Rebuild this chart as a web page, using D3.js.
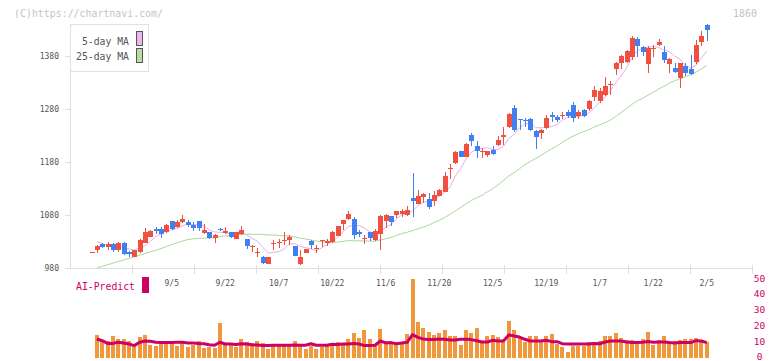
<!DOCTYPE html>
<html><head><meta charset="utf-8">
<script src="https://cdn.jsdelivr.net/npm/d3@7/dist/d3.min.js"></script>
<style>body{margin:0;background:#fff}svg{display:block}text{font-family:"DejaVu Sans Mono",monospace}</style>
</head><body>
<svg id="c" width="772" height="361"></svg>
<script>
const dates = [
"2025-08-15","2025-08-18","2025-08-19","2025-08-20","2025-08-21","2025-08-22","2025-08-25","2025-08-26","2025-08-27","2025-08-28","2025-08-29",
"2025-09-01","2025-09-02","2025-09-03","2025-09-04","2025-09-05","2025-09-08","2025-09-09","2025-09-10","2025-09-11","2025-09-12",
"2025-09-16","2025-09-17","2025-09-18","2025-09-19","2025-09-22","2025-09-24","2025-09-25","2025-09-26","2025-09-29","2025-09-30",
"2025-10-01","2025-10-02","2025-10-03","2025-10-06","2025-10-07","2025-10-08","2025-10-09","2025-10-10","2025-10-14","2025-10-15",
"2025-10-16","2025-10-17","2025-10-20","2025-10-21","2025-10-22","2025-10-23","2025-10-24","2025-10-27","2025-10-28","2025-10-29",
"2025-10-30","2025-10-31","2025-11-04","2025-11-05","2025-11-06","2025-11-07","2025-11-10","2025-11-11","2025-11-12","2025-11-13",
"2025-11-14","2025-11-17","2025-11-18","2025-11-19","2025-11-20","2025-11-21","2025-11-25","2025-11-26","2025-11-27","2025-11-28",
"2025-12-01","2025-12-02","2025-12-03","2025-12-04","2025-12-05","2025-12-08","2025-12-09","2025-12-10","2025-12-11","2025-12-12",
"2025-12-15","2025-12-16","2025-12-17","2025-12-18","2025-12-19","2025-12-22","2025-12-23","2025-12-24","2025-12-25","2025-12-26",
"2025-12-29","2025-12-30","2026-01-05","2026-01-06","2026-01-07","2026-01-08","2026-01-09","2026-01-13","2026-01-14","2026-01-15",
"2026-01-16","2026-01-19","2026-01-20","2026-01-21","2026-01-22","2026-01-23","2026-01-26","2026-01-27","2026-01-28","2026-01-29",
"2026-01-30","2026-02-02","2026-02-03","2026-02-04","2026-02-05"];

const open = [1010,1013,1026,1020,1026,1014,1028,1011,1000,1010,
1028,1039,1054,1054,1047,1069,1058,1067,1067,1061,
1069,1046,1047,1036,1054,1046,1047,1035,1044,1035,
1019,1009,1000,988,1025,1027,1031,1032,1022,988,
1008,1030,1016,1030,1028,1029,1041,1063,1072,1072,
1047,1035,1047,1033,1044,1069,1078,1079,1081,1080,
1111,1101,1113,1110,1107,1116,1124,1166,1177,1201,
1190,1231,1210,1199,1192,1203,1211,1227,1245,1281,
1260,1259,1261,1238,1234,1243,1269,1264,1266,1274,
1287,1267,1277,1279,1303,1294,1306,1326,1355,1366,
1369,1377,1411,1396,1364,1392,1400,1387,1365,1357,
1338,1361,1355,1369,1405,1437];
const high = [1011,1023,1028,1029,1027,1029,1029,1012,1014,1034,
1056,1051,1058,1058,1063,1069,1070,1080,1070,1067,
1069,1063,1047,1044,1056,1057,1048,1048,1059,1035,
1023,1017,1003,1000,1033,1034,1047,1043,1022,1014,
1016,1033,1023,1033,1035,1049,1060,1071,1088,1076,
1052,1042,1047,1053,1079,1081,1078,1088,1091,1097,
1159,1127,1122,1122,1126,1128,1160,1176,1201,1201,
1215,1235,1220,1206,1201,1209,1228,1245,1272,1288,
1261,1262,1262,1240,1242,1269,1274,1269,1274,1278,
1293,1278,1279,1297,1323,1319,1339,1333,1368,1382,
1391,1417,1415,1398,1399,1401,1412,1399,1376,1367,
1367,1367,1382,1409,1426,1440];
const low = [1010,1009,1018,1013,1011,1011,1004,1000,1000,1008,
1027,1038,1044,1037,1046,1052,1056,1064,1058,1050,
1049,1045,1034,1028,1050,1044,1036,1034,1042,1016,
1011,1000,987,987,1013,1018,1023,1023,1003,986,
1008,1016,1008,1020,1022,1027,1040,1052,1071,1035,
1039,1026,1031,1031,1014,1055,1059,1075,1076,1078,
1077,1100,1102,1091,1097,1115,1123,1147,1176,1189,
1189,1209,1187,1187,1190,1193,1209,1212,1243,1237,
1240,1245,1239,1204,1223,1241,1256,1255,1261,1262,
1255,1261,1265,1275,1294,1291,1304,1306,1343,1354,
1366,1372,1377,1379,1348,1377,1398,1367,1348,1348,
1319,1341,1344,1365,1399,1407];
const close = [1011,1021,1020,1026,1014,1028,1006,1006,1014,1033,
1048,1050,1049,1044,1061,1054,1066,1072,1061,1055,
1055,1052,1036,1042,1052,1050,1039,1047,1052,1022,
1021,1010,989,1000,1027,1029,1033,1038,1003,1001,
1016,1023,1018,1032,1030,1048,1059,1071,1082,1042,
1045,1037,1037,1050,1078,1080,1066,1088,1088,1089,
1107,1116,1120,1095,1118,1127,1154,1168,1199,1190,
1214,1220,1200,1200,1200,1195,1221,1231,1271,1240,
1258,1257,1240,1226,1240,1262,1264,1259,1268,1267,
1262,1273,1266,1294,1316,1313,1322,1327,1367,1380,
1389,1413,1398,1387,1394,1394,1406,1372,1374,1350,
1366,1348,1346,1401,1418,1429];

const ma5 = [null,1030,1026,1022,1018.4,1021.8,1018.8,1016,1013.6,1017.4,
1021.4,1030.2,1038.8,1044.8,1050.4,1051.6,1054.8,1059.4,1062.8,1061.6,
1061.8,1059,1051.8,1048,1047.4,1046.4,1043.8,1046,1048,1042,
1036.2,1030.4,1018.8,1008.4,1009.4,1011,1015.6,1025.4,1026,1020.8,
1018.2,1016.2,1012.2,1018,1023.8,1030.2,1037.4,1048,1058,1060.4,
1059.8,1055.4,1048.6,1042.2,1049.4,1056.4,1062.2,1072.4,1080,1082.2,
1087.6,1097.6,1104,1105.4,1111.2,1115.2,1122.8,1132.4,1153.2,1167.6,
1185,1198.2,1204.6,1204.8,1206.8,1203,1203.2,1209.4,1223.6,1231.6,
1244.2,1251.4,1253.2,1244.2,1244.2,1245,1246.4,1250.2,1258.6,1264,
1264,1265.8,1267.2,1272.4,1282.2,1292.4,1302.2,1314.4,1329,1341.8,
1357,1375.2,1389.4,1393.4,1396.2,1397.2,1395.8,1390.6,1388,1379.2,
1373.6,1362,1356.8,1362.2,1375.8,1388.4];
const ma25 = [null,980,983,986.1,989.1,992.2,995.2,998.3,1001.3,1004.3,
1007.3,1010.3,1013.3,1016.7,1020.4,1024,1027.6,1030.9,1033.6,1035,
1035.6,1036.1,1036.7,1037.2,1039,1040.6,1041.3,1042.4,1043.4,1043.8,
1043.5,1043.6,1043,1042.4,1042.2,1041.4,1040.7,1040.3,1038.6,1036.2,
1034.7,1033,1030.8,1029.7,1028.7,1028.4,1028.7,1030.1,1031.7,1031.3,
1031.1,1031,1030.6,1030.5,1032.8,1035.1,1037.4,1041.3,1044.8,1047.3,
1050.4,1053.8,1057,1060.7,1065.4,1069.8,1075.1,1081.1,1087.8,1094.2,
1100.8,1107.2,1112.4,1117.1,1123.4,1129.4,1136.8,1144.6,1153.4,1159.9,
1167,1174.6,1180.7,1186.2,1192.3,1198.5,1204.4,1210,1216.9,1222.8,
1228.2,1233,1236.9,1240.7,1245.8,1249.7,1253.8,1258.9,1265.6,1272.8,
1280.5,1288.2,1294.9,1299.5,1305.7,1311.1,1317.1,1322.4,1328.3,1332.7,
1336.8,1340.2,1343.7,1349,1355,1361.7];

const volume = [0,14.1,10.3,10.3,13.5,11.6,11.6,10.3,6.7,12.8,
14.1,7.8,7.2,8.4,9.7,8.4,7.2,10.3,6.5,7.8,
10.3,5.9,6.5,5.9,21.7,7.8,7.8,6.5,11.6,9.7,
9.2,10.3,9.1,5.3,8.4,7.2,7.8,7.8,10.3,8.4,
5.3,7.2,5.3,6.5,7.2,7.2,9.7,8.4,11.6,15.4,
12.2,17.3,11.6,8.4,17.9,10.3,8.4,9.1,9.7,14.7,
49.6,22.3,18.5,16,14.1,15.4,17.3,13.5,13.5,7.8,
17.3,15.4,18.5,10.3,13.5,14.1,12.8,10,23,17.3,
12.2,9.7,13.5,13.5,10.3,13.5,14.7,8.4,6.5,3.4,
7.2,7.2,7.2,9.7,9.7,10.3,13.5,13.5,15.4,12.2,
11,11,10.3,11.6,16,7.8,11,13.5,9.7,10.3,
11,11.6,11.6,12.2,10.3,9.7];
const aiPredict = [null,11.6,10.5,8.8,8.8,9.5,9.0,8.4,7.4,9.5,
10.3,10.2,9.5,9.3,9.3,9.3,9.5,9.5,9.1,9.1,
8.8,8.6,8.0,7.6,9.5,8.4,8.4,8.1,8.6,8.4,
8.0,7.8,7.4,7.4,7.6,7.6,7.6,7.6,7.8,7.6,
7.6,8.6,7.6,7.6,7.6,8.3,8.1,8.4,8.4,8.8,
8.4,7.4,7.4,7.6,10.3,9.1,9.3,8.6,9.1,9.5,
14.3,12.6,11.6,11.2,11.2,11.6,11.4,11.0,11.0,11.4,
11.4,11.2,10.5,9.7,9.7,10.8,10.3,10.3,14.2,13.5,
12.8,11.4,10.3,10.3,10.3,10.8,9.9,9.9,8.6,8.4,
8.4,8.4,8.4,8.4,8.8,8.6,9.7,10.3,10.3,10.3,
9.7,9.3,9.3,9.5,10.0,9.5,9.7,9.7,9.3,9.0,
9.3,9.3,9.3,10.5,10.3,9.3];

const priceTicks = [980,1080,1180,1280,1380];
const volTicks = [0,10,20,30,40,50];
const xLabelDates = ["2025-09-05","2025-09-22","2025-10-07","2025-10-22","2025-11-06","2025-11-20","2025-12-05","2025-12-19","2026-01-07","2026-01-22","2026-02-05"];
const xLabelText = ["9/5","9/22","10/7","10/22","11/6","11/20","12/5","12/19","1/7","1/22","2/5"];
const gridTickCount = 11;

const svg = d3.select("#c");
const UP = "#f05040", DOWN = "#4080f0";
const x = d3.scalePoint().domain(dates).range([91.5, 706.75]);
const y = d3.scaleLinear().domain([980, 1380]).range([268, 55.7]);
const yv = d3.scaleLinear().domain([0, 50]).range([357.3, 278.3]);
const xg = d3.scaleLinear().domain([0, gridTickCount]).range([70, 752]);

// header texts
svg.append("text").attr("x",14).attr("y",17).attr("font-size",10).attr("fill","#c4c4c4")
  .attr("textLength",149).attr("lengthAdjust","spacingAndGlyphs").text("(C)https://chartnavi.com/");
svg.append("text").attr("x",733).attr("y",17).attr("font-size",10).attr("fill","#c4c4c4")
  .attr("textLength",24).attr("lengthAdjust","spacingAndGlyphs").text("1860");

// axes
const ax = svg.append("g").attr("shape-rendering","crispEdges").attr("stroke","#dedede");
ax.append("line").attr("x1",70.5).attr("x2",70.5).attr("y1",24).attr("y2",268);
ax.append("line").attr("x1",70).attr("x2",753).attr("y1",268.5).attr("y2",268.5);
ax.selectAll(".yt").data(priceTicks).join("line").attr("x1",65).attr("x2",70)
  .attr("y1",d=>Math.round(y(d))+0.5).attr("y2",d=>Math.round(y(d))+0.5);
ax.selectAll(".xt").data(d3.range(1, gridTickCount+1)).join("line")
  .attr("x1",d=>Math.round(xg(d))+0.5).attr("x2",d=>Math.round(xg(d))+0.5).attr("y1",265).attr("y2",274);

svg.selectAll(".yl").data(priceTicks).join("text").attr("x",59).attr("y",d=>y(d)+3)
  .attr("text-anchor","end").attr("font-size",8).attr("fill","#555").text(d=>d);
svg.selectAll(".xl").data(xLabelDates).join("text").attr("x",d=>x(d)).attr("y",285.5)
  .attr("text-anchor","middle").attr("font-size",8).attr("fill","#555").text((d,i)=>xLabelText[i]);

// moving averages
const idx = d3.range(dates.length);
const lineOf = arr => d3.line().defined(i=>arr[i]!=null).x(i=>x(dates[i])).y(i=>y(arr[i]));
svg.append("path").attr("d",lineOf(ma25)(idx)).attr("fill","none").attr("stroke","#a9d89c").attr("stroke-width",1);
svg.append("path").attr("d",lineOf(ma5)(idx)).attr("fill","none").attr("stroke","#e8aee8").attr("stroke-width",1);

// candles
const cg = svg.append("g").attr("shape-rendering","crispEdges");
idx.forEach(i=>{
  const cx = x(dates[i]);
  const col = close[i] >= open[i] ? UP : DOWN;
  cg.append("line").attr("x1",Math.round(cx)+0.5).attr("x2",Math.round(cx)+0.5)
    .attr("y1",y(high[i])).attr("y2",y(low[i])).attr("stroke",col);
  const top = y(Math.max(open[i],close[i])), bot = y(Math.min(open[i],close[i]));
  cg.append("rect").attr("x",Math.round(cx)-2).attr("width",5)
    .attr("y",top).attr("height",Math.max(1,bot-top)).attr("fill",col);
});

// legend
svg.append("rect").attr("x",70.5).attr("y",24.5).attr("width",78).attr("height",47)
  .attr("fill","#fff").attr("stroke","#e0e0e0").attr("shape-rendering","crispEdges");
svg.append("text").attr("x",129).attr("y",45).attr("text-anchor","end").attr("font-size",10).attr("fill","#555")
  .attr("textLength",47).attr("lengthAdjust","spacingAndGlyphs").text("5-day MA");
svg.append("text").attr("x",129).attr("y",59.5).attr("text-anchor","end").attr("font-size",10).attr("fill","#555")
  .attr("textLength",53).attr("lengthAdjust","spacingAndGlyphs").text("25-day MA");
svg.append("rect").attr("x",136.5).attr("y",31.5).attr("width",6).attr("height",14)
  .attr("fill","#f0b6ec").attr("stroke","#555").attr("shape-rendering","crispEdges");
svg.append("rect").attr("x",136.5).attr("y",48.5).attr("width",6).attr("height",14)
  .attr("fill","#b8dca8").attr("stroke","#555").attr("shape-rendering","crispEdges");

// AI-Predict label
svg.append("text").attr("x",76).attr("y",289.5).attr("font-size",10).attr("fill","#cc0066")
  .attr("textLength",59).attr("lengthAdjust","spacingAndGlyphs").text("AI-Predict");
svg.append("rect").attr("x",142).attr("y",277).attr("width",7).attr("height",16).attr("fill","#cc0066");

// volume
svg.append("g").attr("shape-rendering","crispEdges").selectAll("rect").data(idx.filter(i=>volume[i]>0)).join("rect")
  .attr("x",i=>Math.round(x(dates[i]))-2).attr("width",4)
  .attr("y",i=>yv(volume[i])).attr("height",i=>yv(0)-yv(volume[i])+1).attr("fill","#f0963c");
svg.append("path").attr("d",d3.line().defined(i=>aiPredict[i]!=null).x(i=>x(dates[i])).y(i=>yv(aiPredict[i]))(idx))
  .attr("fill","none").attr("stroke","#cc0066").attr("stroke-width",3).attr("stroke-linejoin","round");
svg.selectAll(".vl").data(volTicks).join("text").attr("x",759.5).attr("y",d=>Math.min(yv(d)+3.2, 359.5))
  .attr("text-anchor","middle").attr("font-size",9.5).attr("fill","#cc0066").text(d=>d);
</script>
</body></html>
